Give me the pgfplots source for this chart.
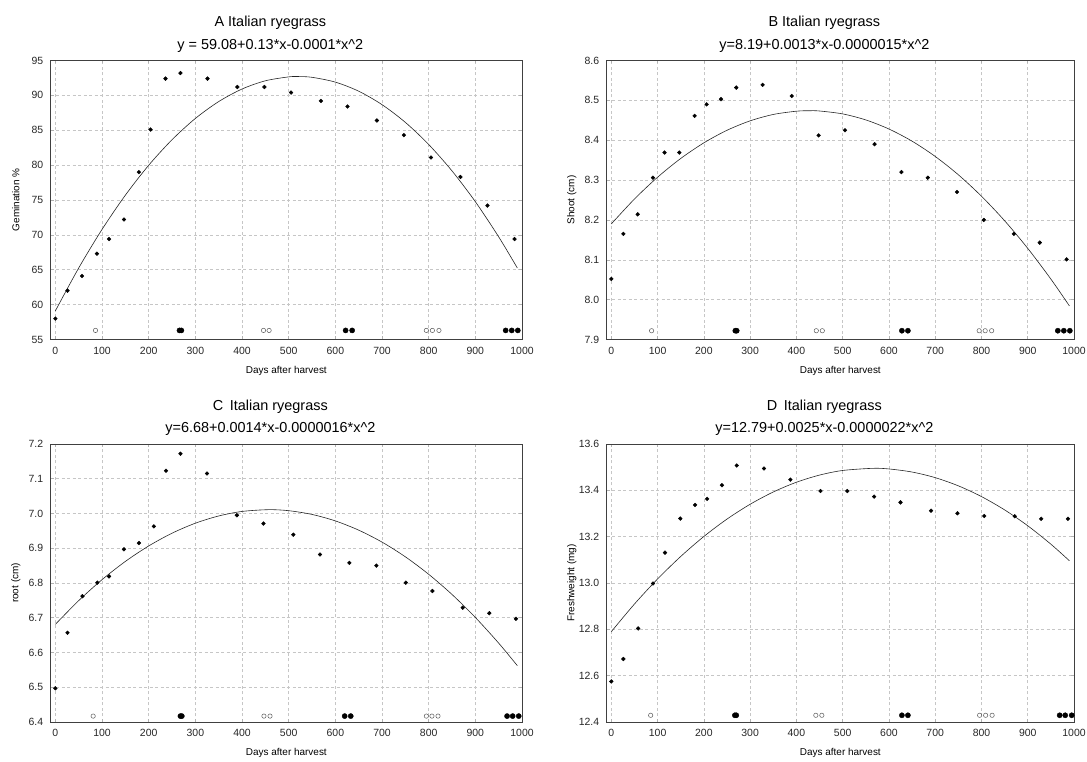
\documentclass[border=0pt]{standalone}
\usepackage{fontspec}
\setmainfont{Liberation Sans}
\usepackage{pgfplots}
\pgfplotsset{compat=1.18}

\pgfplotsset{
  panel/.style={
    scale only axis,
    anchor=south west,
    xmin=-10, xmax=1000,
    xtick={0,100,...,1000},
    grid=major,
    major grid style={gray!45, dash pattern=on 3bp off 2.5bp, line width=0.5bp},
    axis line style={gray!50!black, line width=0.7bp},
    tick align=inside,
    major tick length=3bp,
    tick style={gray!60, line width=0.5bp},
    tick label style={font=\fontsize{10.5}{12}\selectfont, text=black!85},
    /pgf/number format/assume math mode=true,
    /pgf/number format/1000 sep={},
    xticklabel style={yshift=-4bp},
    yticklabel style={xshift=-4bp},
    label style={font=\fontsize{11}{13}\selectfont, text=black!85},
    xlabel={Days after harvest},
    every axis x label/.style={at={([yshift=-31bp]axis description cs:0.5,0)}, anchor=center},
    every axis y label/.style={at={([xshift=-35bp]axis description cs:0,0.5)}, rotate=90, anchor=center},
    every axis title/.style={at={([xshift=-16bp,yshift=8bp]axis description cs:0.5,1)}, anchor=south, align=center, inner sep=0pt, font=\fontsize{14.5}{22.5}\selectfont},
  },
  onedec/.style={yticklabel style={/pgf/number format/fixed, /pgf/number format/fixed zerofill, /pgf/number format/precision=1}},
  fitline/.style={black!85, line width=0.6bp, smooth, no markers},
  obs/.style={only marks, mark=*, mark size=1.9pt, black},
  sigfill/.style={only marks, mark=*, mark size=2.6pt, black},
  sigopen/.style={only marks, mark=o, mark size=2.2pt, gray!70!black, mark options={line width=0.5bp}},
}

\begin{document}
\begin{tikzpicture}
\useasboundingbox (0,0) rectangle (1087bp,762bp);

% ---------- A: germination ----------
\begin{axis}[panel, at={(50.7bp,422.5bp)}, width=471.3bp, height=279bp,
  ymin=55, ymax=95, ytick={55,60,...,95},
  ylabel={Gemination \%},
  title={A Italian ryegrass\\y = 59.08+0.13*x-0.0001*x\textasciicircum2}]
\addplot[fitline] coordinates {
 (0,59.10) (50,65.25) (100,70.78) (150,75.69) (200,79.98) (250,83.64)
 (300,86.69) (350,89.11) (400,90.91) (450,92.09) (500,92.65) (520,92.70)
 (550,92.59) (600,91.90) (650,90.60) (700,88.67) (750,86.13) (800,82.96)
 (850,79.17) (900,74.76) (950,69.72) (990,65.25)};
\addplot[obs] coordinates {
 (0,58.0) (26,62.0) (57,64.1) (89,67.3) (115,69.4) (147,72.2) (179,79.0)
 (204,85.1) (236,92.4) (268,93.2) (326,92.4) (390,91.2) (448,91.2) (505,90.4)
 (569,89.2) (626,88.4) (689,86.4) (747,84.3) (805,81.1) (868,78.3) (926,74.2)
 (984,69.4)};
\addplot[sigopen] coordinates {(86,56.3) (446,56.3) (458,56.3) (795,56.3) (808,56.3) (822,56.3)};
\addplot[sigfill] coordinates {(266,56.3) (270,56.3) (622,56.3) (636,56.3) (965,56.3) (978,56.3) (991,56.3)};
\end{axis}

% ---------- B: shoot ----------
\begin{axis}[panel, onedec, at={(606.7bp,422.5bp)}, width=467.3bp, height=279bp,
  ymin=7.9, ymax=8.6, ytick={7.9,8.0,...,8.6},
  ylabel={Shoot (cm)},
  title={B Italian ryegrass\\y=8.19+0.0013*x-0.0000015*x\textasciicircum2}]
\addplot[fitline] coordinates {
 (0,8.190) (50,8.2525) (100,8.3072) (150,8.3542) (200,8.3934) (250,8.4249)
 (300,8.4486) (350,8.4646) (400,8.4728) (428,8.4740) (450,8.4733) (500,8.4660)
 (550,8.4509) (600,8.4281) (650,8.3976) (700,8.3593) (750,8.3133) (800,8.2595)
 (850,8.1980) (900,8.1287) (950,8.0516) (990,7.9844)};
\addplot[obs] coordinates {
 (0,8.052) (26,8.165) (57,8.214) (90,8.306) (115,8.369) (147,8.369) (180,8.461)
 (206,8.490) (237,8.503) (270,8.532) (327,8.539) (390,8.511) (448,8.412) (505,8.425)
 (569,8.390) (627,8.320) (684,8.306) (747,8.270) (805,8.200) (870,8.165) (926,8.143)
 (984,8.101)};
\addplot[sigopen] coordinates {(87,7.922) (443,7.922) (456,7.922) (795,7.922) (808,7.922) (822,7.922)};
\addplot[sigfill] coordinates {(268,7.922) (271,7.922) (628,7.922) (641,7.922) (965,7.922) (978,7.922) (991,7.922)};
\end{axis}

% ---------- C: root ----------
\begin{axis}[panel, onedec, at={(50.7bp,40bp)}, width=471.3bp, height=278bp,
  ymin=6.4, ymax=7.2, ytick={6.4,6.5,...,7.2},
  ylabel={root (cm)},
  title={C\, Italian ryegrass\\y=6.68+0.0014*x-0.0000016*x\textasciicircum2}]
\addplot[fitline] coordinates {
 (0,6.681) (50,6.7493) (100,6.8096) (150,6.8621) (200,6.9066) (250,6.9433)
 (300,6.9721) (350,6.9929) (400,7.0059) (457,7.0110) (500,7.0081) (550,6.9973)
 (600,6.9787) (650,6.9521) (700,6.9177) (750,6.8754) (800,6.8251) (850,6.7670)
 (900,6.7009) (950,6.6270) (990,6.5621)};
\addplot[obs] coordinates {
 (0,6.497) (26,6.657) (58,6.762) (90,6.801) (115,6.819) (147,6.897) (179,6.915)
 (211,6.963) (237,7.123) (268,7.172) (325,7.115) (389,6.995) (446,6.971) (510,6.939)
 (567,6.882) (630,6.858) (688,6.850) (751,6.801) (808,6.777) (873,6.729) (930,6.713)
 (987,6.697)};
\addplot[sigopen] coordinates {(81,6.417) (447,6.417) (460,6.417) (795,6.417) (807,6.417) (820,6.417)};
\addplot[sigfill] coordinates {(268,6.417) (271,6.417) (620,6.417) (633,6.417) (968,6.417) (980,6.417) (993,6.417)};
\end{axis}

% ---------- D: fresh weight ----------
\begin{axis}[panel, onedec, at={(606.7bp,40bp)}, width=467.3bp, height=278bp,
  ymin=12.4, ymax=13.6, ytick={12.4,12.6,...,13.6},
  ylabel={Freshweight (mg)},
  title={D\, Italian ryegrass\\y=12.79+0.0025*x-0.0000022*x\textasciicircum2}]
\addplot[fitline] coordinates {
 (0,12.790) (50,12.9093) (100,13.0175) (150,13.1146) (200,13.2008) (250,13.2759)
 (300,13.3399) (350,13.3929) (400,13.4349) (450,13.4658) (500,13.4857) (565,13.4950)
 (600,13.4923) (650,13.4790) (700,13.4548) (750,13.4194) (800,13.3730) (850,13.3156)
 (900,13.2471) (950,13.1676) (990,13.0961)};
\addplot[obs] coordinates {
 (0,12.575) (26,12.672) (58,12.804) (90,12.998) (116,13.131) (149,13.278) (181,13.337)
 (207,13.363) (239,13.422) (271,13.507) (330,13.494) (387,13.446) (452,13.397) (510,13.397)
 (568,13.373) (625,13.348) (691,13.312) (748,13.301) (806,13.289) (872,13.288) (929,13.277)
 (987,13.277)};
\addplot[sigopen] coordinates {(85,12.429) (442,12.429) (455,12.429) (796,12.429) (809,12.429) (823,12.429)};
\addplot[sigfill] coordinates {(267,12.429) (270,12.429) (628,12.429) (641,12.429) (969,12.429) (981,12.429) (995,12.429)};
\end{axis}
\end{tikzpicture}
\end{document}
